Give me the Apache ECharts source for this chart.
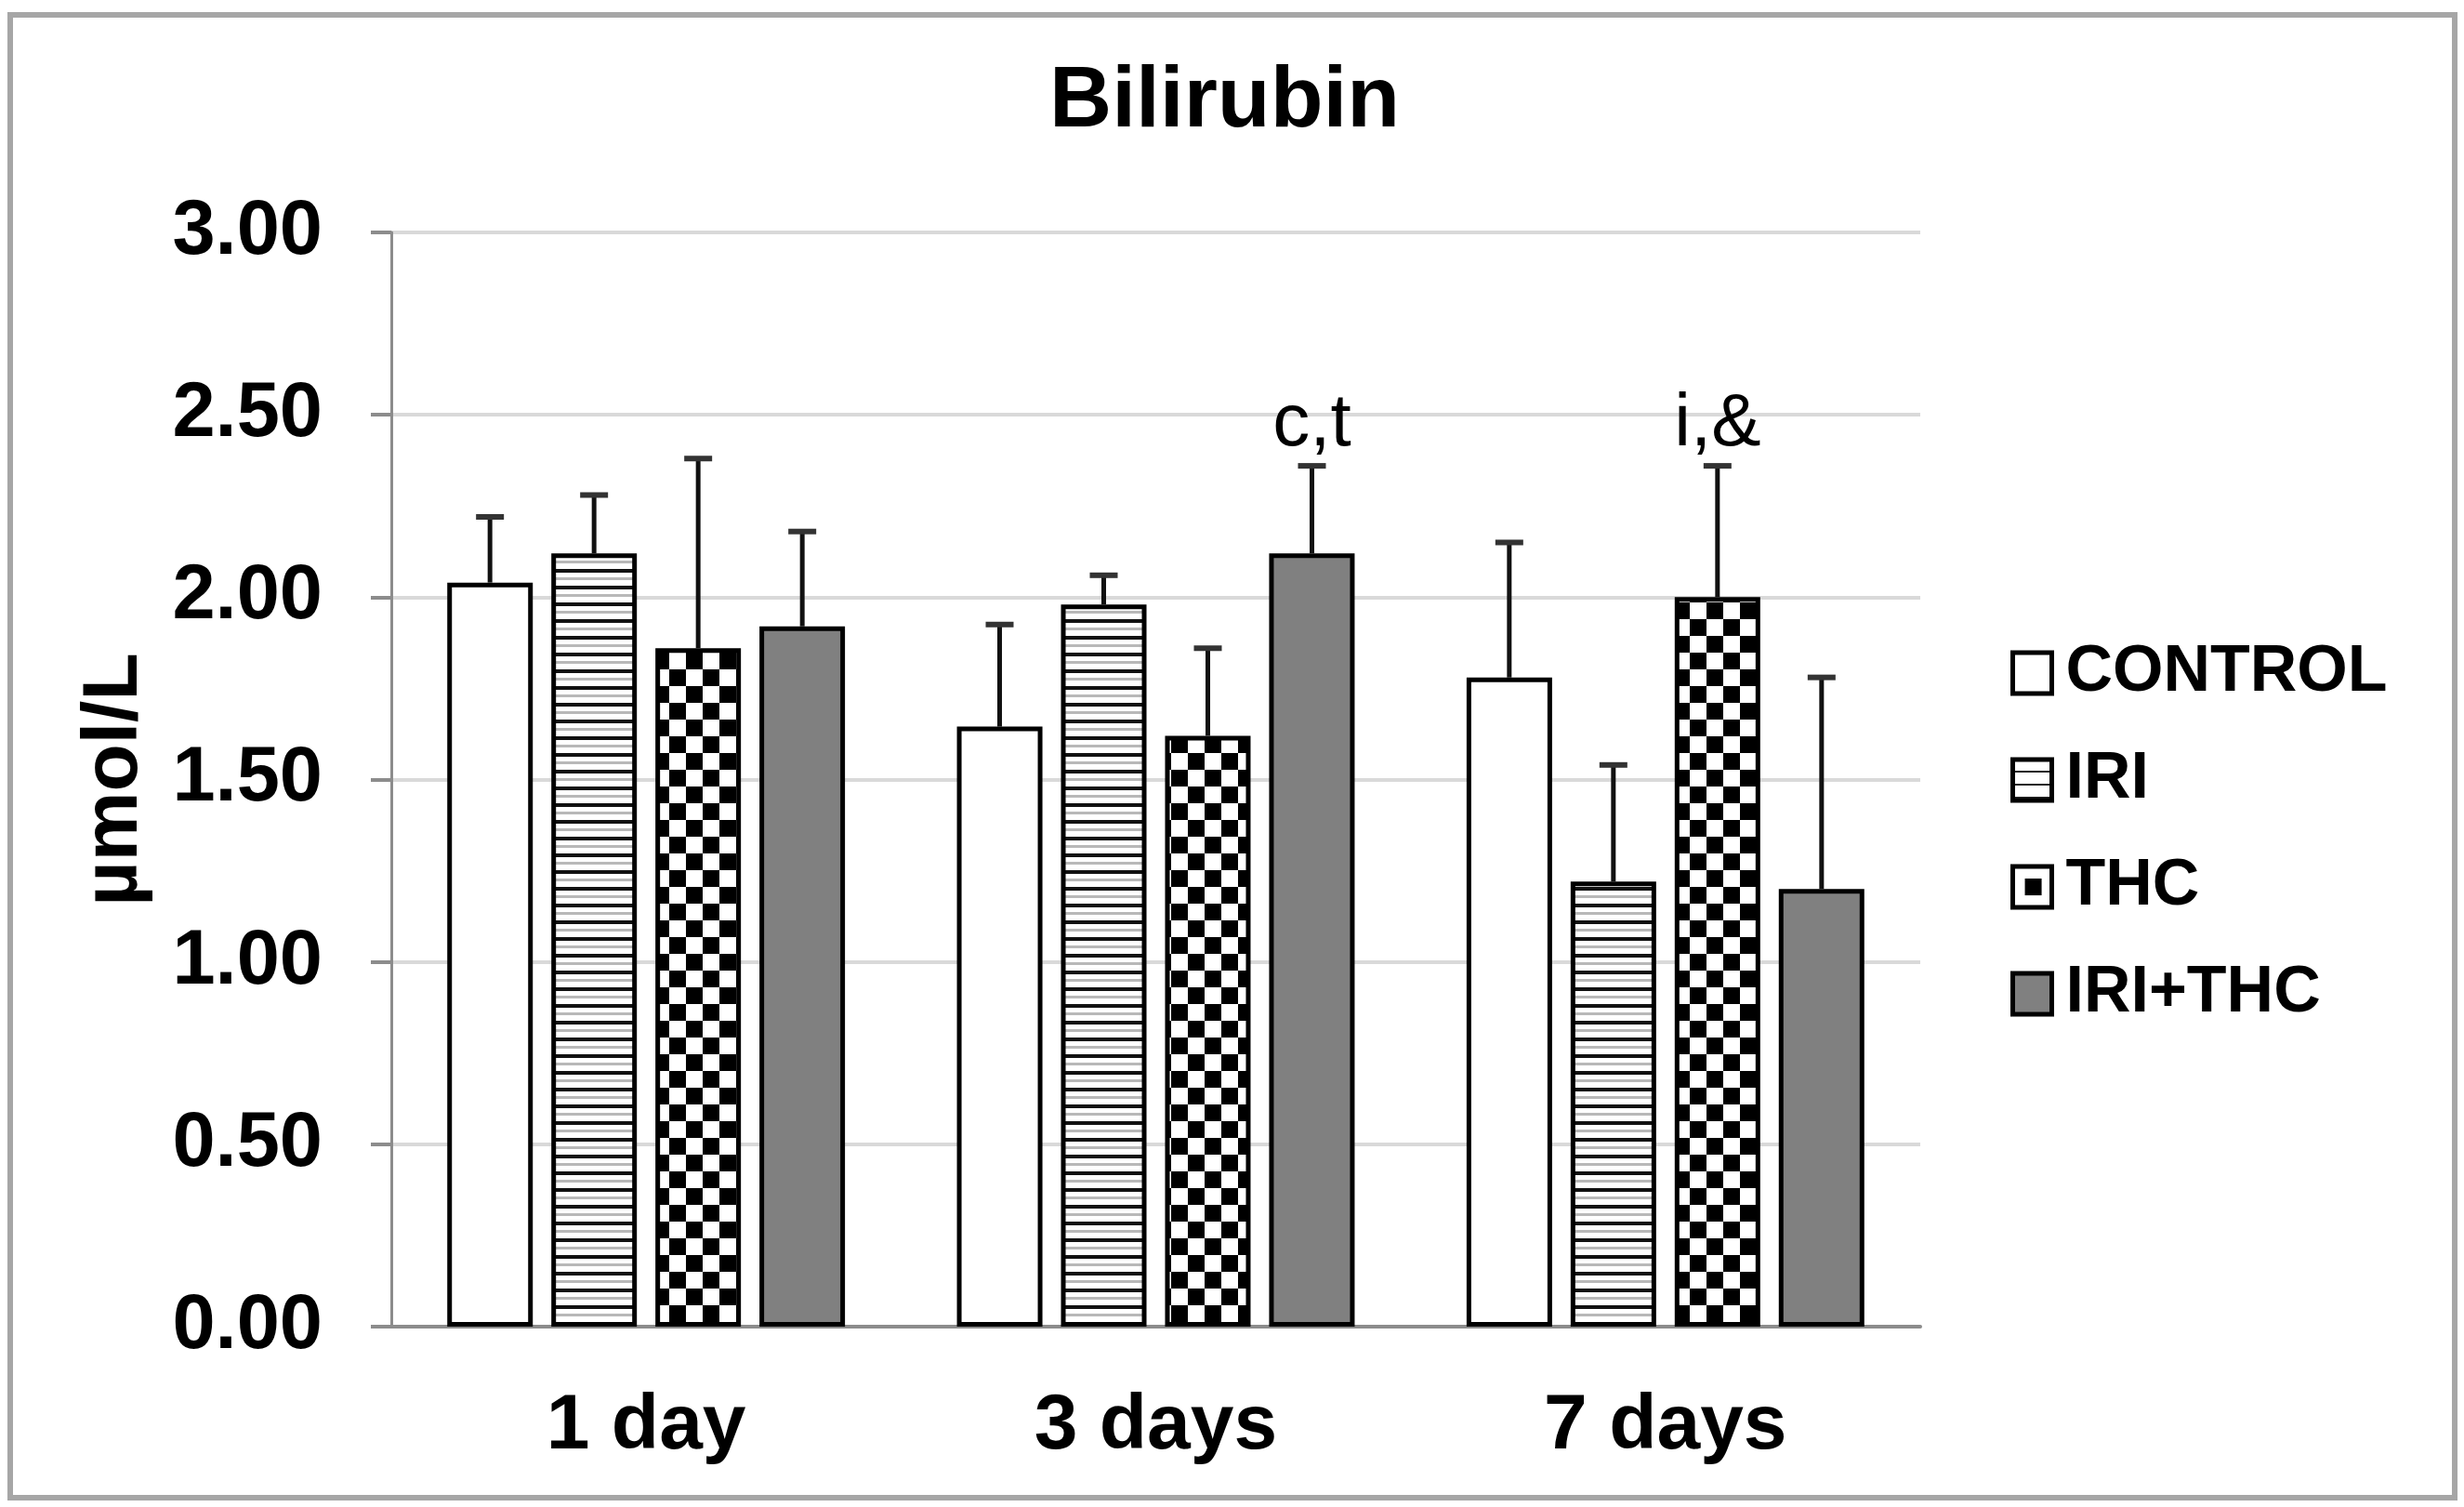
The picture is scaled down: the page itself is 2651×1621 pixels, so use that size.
<!DOCTYPE html>
<html><head><meta charset="utf-8">
<script src="https://cdn.jsdelivr.net/npm/echarts@6/dist/echarts.min.js"></script>
<style>html,body{margin:0;padding:0;background:#fff}#c{width:2651px;height:1621px}</style>
</head><body><div id="c"></div>
<script>
// ---- data ----
const categories = ['1 day', '3 days', '7 days'];
const seriesNames = ['CONTROL', 'IRI', 'THC', 'IRI+THC'];
const controlMean = [2.04, 1.645, 1.78];
const iriMean = [2.12, 1.98, 1.22];
const thcMean = [1.86, 1.62, 2.00];
const iriThcMean = [1.92, 2.12, 1.20];
const controlErr = [0.18, 0.28, 0.37];
const iriErr = [0.16, 0.08, 0.32];
const thcErr = [0.52, 0.24, 0.36];
const iriThcErr = [0.26, 0.24, 0.58];
const controlNote = ['', '', ''];
const iriNote = ['', '', ''];
const thcNote = ['', '', 'i,&'];
const iriThcNote = ['', 'c,t', ''];
const yMin = 0, yMax = 3, yStep = 0.5;
const titleText = 'Bilirubin';
const yAxisName = 'µmol/L';

// ---- styles ----
const FONT = '"Liberation Sans", Arial, sans-serif';
const BAR_W = 92, BAR_GAP = 20;

function makeCanvas(w, h, draw) {
  const c = document.createElement('canvas');
  c.width = w; c.height = h;
  const ctx = c.getContext('2d');
  ctx.fillStyle = '#fff'; ctx.fillRect(0, 0, w, h);
  draw(ctx);
  return c;
}
const stripeTile = makeCanvas(8, 18, ctx => {
  ctx.fillStyle = '#111'; ctx.fillRect(0, 0, 8, 4);
  ctx.fillStyle = '#b8b8b8'; ctx.fillRect(0, 9, 8, 3);
});
const checkTile = makeCanvas(36, 36, ctx => {
  ctx.fillStyle = '#000';
  ctx.fillRect(0, 0, 18, 18); ctx.fillRect(18, 18, 18, 18);
});
const stripeIcon = makeCanvas(8, 14, ctx => {
  ctx.fillStyle = '#222'; ctx.fillRect(0, 12, 8, 4);
});
const dotIcon = makeCanvas(44, 44, ctx => {
  ctx.fillStyle = '#000'; ctx.fillRect(13, 13, 18, 18);
});

const fills = [
  '#ffffff',
  { image: stripeTile, repeat: 'repeat' },
  { image: checkTile, repeat: 'repeat' },
  '#808080'
];
const iconFills = [
  '#ffffff',
  { image: stripeIcon, repeat: 'repeat' },
  { image: dotIcon, repeat: 'repeat' },
  '#808080'
];

const means = [controlMean, iriMean, thcMean, iriThcMean];
const errs = [controlErr, iriErr, thcErr, iriThcErr];
const notes = [controlNote, iriNote, thcNote, iriThcNote];

const barSeries = seriesNames.map((name, i) => ({
  type: 'bar',
  name: name,
  data: means[i],
  barWidth: BAR_W,
  barGap: (BAR_GAP / BAR_W * 100).toFixed(1) + '%',
  itemStyle: { color: fills[i], borderColor: '#000', borderWidth: 5 },
  emphasis: { disabled: true },
  z: 2
}));

const errSeries = seriesNames.map((name, i) => ({
  type: 'custom',
  name: name,
  silent: true,
  z: 5,
  encode: { x: 0, y: 1 },
  data: means[i].map((m, k) => [k, m, errs[i][k]]),
  renderItem: function (params, api) {
    const k = api.value(0), m = api.value(1), e = api.value(2);
    const base = api.coord([k, m]);
    const top = api.coord([k, m + e]);
    const x = base[0] + (i - 1.5) * (BAR_W + BAR_GAP);
    const children = [
      { type: 'line', shape: { x1: x, y1: base[1], x2: x, y2: top[1] },
        style: { stroke: '#111', lineWidth: 5 } },
      { type: 'line', shape: { x1: x - 15, y1: top[1], x2: x + 15, y2: top[1] },
        style: { stroke: '#333', lineWidth: 6 } }
    ];
    const note = notes[i][params.dataIndex];
    if (note) {
      children.push({ type: 'text', style: {
        text: note, x: x, y: top[1] - 4, align: 'center', verticalAlign: 'bottom',
        font: '80px ' + FONT, fill: '#000' } });
    }
    return { type: 'group', children: children };
  }
}));

const chart = echarts.init(document.getElementById('c'), null, { renderer: 'canvas' });
chart.setOption({
  animation: false,
  backgroundColor: '#fff',
  title: {
    text: titleText, left: 1129, top: 64, padding: 0,
    textStyle: { fontSize: 93, fontWeight: 'bold', fontFamily: FONT, color: '#000' }
  },
  legend: {
    orient: 'vertical', left: 2163, top: 689, padding: 0,
    itemWidth: 42, itemHeight: 44, itemGap: 45,
    textStyle: { fontSize: 70, fontWeight: 'bold', fontFamily: FONT, color: '#000',
      lineHeight: 70, padding: [0, 0, 0, 10] },
    data: seriesNames.map((n, i) => ({
      name: n, icon: 'rect',
      itemStyle: { color: iconFills[i], borderColor: '#000', borderWidth: 5 }
    })),
    selectedMode: false
  },
  grid: { left: 421, right: 585, top: 250, bottom: 194 },
  xAxis: {
    type: 'category', data: categories,
    axisLine: { lineStyle: { color: '#8c8c8c', width: 4 } },
    axisTick: { show: false },
    axisLabel: { fontSize: 84, fontWeight: 'bold', fontFamily: FONT, color: '#000', margin: 66 }
  },
  yAxis: {
    type: 'value', min: yMin, max: yMax, interval: yStep,
    name: yAxisName, nameLocation: 'middle', nameRotate: 90, nameGap: 255,
    nameTextStyle: { fontSize: 84, fontWeight: 'bold', fontFamily: FONT, color: '#000' },
    axisLine: { show: true, lineStyle: { color: '#8c8c8c', width: 3 } },
    axisTick: { show: true, length: 22, lineStyle: { color: '#8c8c8c', width: 4 } },
    axisLabel: { fontSize: 83, fontWeight: 'bold', fontFamily: FONT, color: '#000', margin: 74,
      formatter: v => v.toFixed(2) },
    splitLine: { lineStyle: { color: '#d9d9d9', width: 4 } }
  },
  graphic: [{
    type: 'rect', silent: true, z: -1,
    shape: { x: 11, y: 16, width: 2630, height: 1595 },
    style: { fill: 'none', stroke: '#a6a6a6', lineWidth: 6 }
  }],
  series: barSeries.concat(errSeries)
});
</script></body></html>
